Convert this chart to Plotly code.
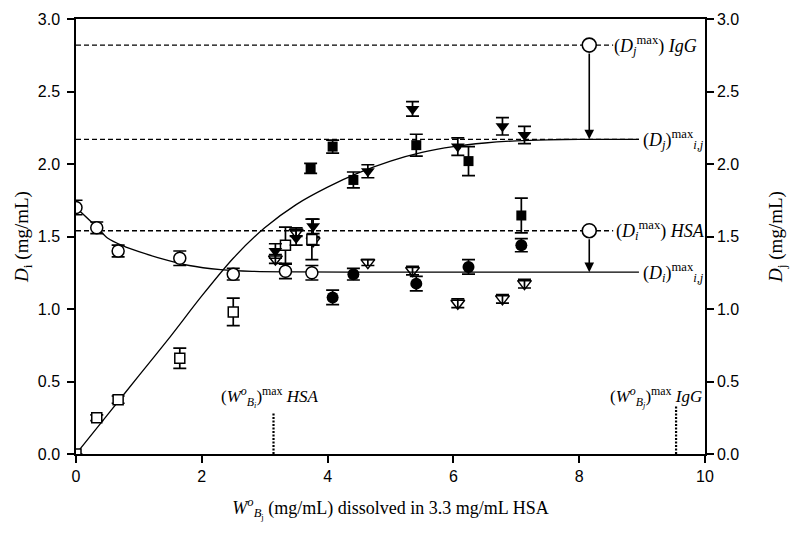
import plotly.graph_objects as go

# ---------------- data ----------------
open_circ_x = [0.0, 0.33, 0.67, 1.65, 2.50, 3.33, 3.75]
open_circ_y = [1.70, 1.56, 1.40, 1.35, 1.24, 1.26, 1.25]
open_circ_err = [0.05, 0.04, 0.04, 0.05, 0.04, 0.05, 0.05]

open_sq_x = [0.0, 0.33, 0.67, 1.65, 2.50, 3.33, 3.75]
open_sq_y = [0.0, 0.25, 0.375, 0.66, 0.98, 1.44, 1.48]
open_sq_err = [0.0, 0.02, 0.025, 0.07, 0.095, 0.125, 0.14]

black_sq_x = [3.73, 4.08, 4.41, 5.41, 6.24, 7.08]
black_sq_y = [1.97, 2.12, 1.89, 2.13, 2.02, 1.645]
black_sq_err = [0.035, 0.045, 0.055, 0.075, 0.10, 0.12]

black_tri_x = [3.17, 3.50, 3.77, 4.64, 5.35, 6.07, 6.78, 7.13]
black_tri_y = [1.40, 1.49, 1.57, 1.95, 2.38, 2.12, 2.26, 2.20]
black_tri_err = [0.05, 0.05, 0.05, 0.045, 0.05, 0.06, 0.06, 0.06]

black_circ_x = [4.08, 4.41, 5.41, 6.24, 7.08]
black_circ_y = [1.08, 1.24, 1.175, 1.29, 1.44]
black_circ_err = [0.05, 0.04, 0.05, 0.05, 0.045]

open_tri_x = [3.17, 3.50, 3.77, 4.64, 5.35, 6.07, 6.78, 7.13]
open_tri_y = [1.345, 1.53, 1.47, 1.32, 1.265, 1.04, 1.07, 1.175]
open_tri_err = [0.03, 0.03, 0.03, 0.02, 0.03, 0.03, 0.03, 0.03]

# fitted curves
dj_curve_x = [0.0, 0.5, 1.0, 1.5, 2.0, 2.5, 3.0, 3.5, 4.0, 4.5, 5.0, 5.5, 6.0, 6.5, 7.0, 7.5, 8.0, 8.5, 8.95]
dj_curve_y = [0.0, 0.27, 0.54, 0.81, 1.09, 1.35, 1.56, 1.72, 1.84, 1.94, 2.02, 2.08, 2.12, 2.145, 2.16, 2.167, 2.17, 2.17, 2.17]

di_curve_x = [0.0, 0.33, 0.5, 0.75, 1.0, 1.3, 1.8, 2.3, 2.8, 3.5, 5.0, 7.0, 8.95]
di_curve_y = [1.70, 1.565, 1.49, 1.435, 1.395, 1.355, 1.30, 1.272, 1.26, 1.256, 1.254, 1.254, 1.254]

# reference levels
igg_max = 2.82
dj_max = 2.17
hsa_max = 1.54
di_max = 1.254
max_marker_x = 8.16
level_end_x = 8.54
w_hsa = 3.14
w_igg = 9.54
w_line_top = [0.29, 0.33]

x_ticks = [0, 2, 4, 6, 8, 10]
y_ticks = [0.0, 0.5, 1.0, 1.5, 2.0, 2.5, 3.0]
y_ticklabels = ["0.0", "0.5", "1.0", "1.5", "2.0", "2.5", "3.0"]

# ---------------- figure ----------------
fig = go.Figure()
BLK = "black"

def eb(err):
    return dict(type="data", array=err, visible=True, color=BLK, thickness=1.7, width=6.5)

# dashed reference lines
for yv, xe in [(igg_max, level_end_x), (dj_max, 8.95), (hsa_max, level_end_x)]:
    fig.add_trace(go.Scatter(x=[0, xe], y=[yv, yv], mode="lines",
                             line=dict(color=BLK, width=1.4, dash="5px,3px"),
                             showlegend=False, hoverinfo="skip"))

# dotted verticals
fig.add_trace(go.Scatter(x=[w_hsa, w_hsa], y=[0, w_line_top[0]], mode="lines",
                         line=dict(color=BLK, width=2.2, dash="2px,1.5px"), showlegend=False))
fig.add_trace(go.Scatter(x=[w_igg, w_igg], y=[0, w_line_top[1]], mode="lines",
                         line=dict(color=BLK, width=2.2, dash="2px,1.5px"), showlegend=False))

# curves
fig.add_trace(go.Scatter(x=dj_curve_x, y=dj_curve_y, mode="lines",
                         line=dict(color=BLK, width=1.3, shape="spline", smoothing=0.8),
                         showlegend=False))
fig.add_trace(go.Scatter(x=di_curve_x, y=di_curve_y, mode="lines",
                         line=dict(color=BLK, width=1.3, shape="spline", smoothing=0.8),
                         showlegend=False))

# data series
fig.add_trace(go.Scatter(x=open_tri_x, y=open_tri_y, mode="markers", error_y=eb(open_tri_err),
                         marker=dict(symbol="triangle-down-open", size=12, color=BLK, line=dict(width=1.5)),
                         showlegend=False))
fig.add_trace(go.Scatter(x=open_circ_x, y=open_circ_y, mode="markers", error_y=eb(open_circ_err),
                         marker=dict(symbol="circle", size=12, color="white", line=dict(width=1.5, color=BLK)),
                         showlegend=False))
fig.add_trace(go.Scatter(x=open_sq_x, y=open_sq_y, mode="markers", error_y=eb(open_sq_err),
                         marker=dict(symbol="square", size=10, color="white", line=dict(width=1.5, color=BLK)),
                         showlegend=False))
fig.add_trace(go.Scatter(x=black_circ_x, y=black_circ_y, mode="markers", error_y=eb(black_circ_err),
                         marker=dict(symbol="circle", size=12, color=BLK), showlegend=False))
fig.add_trace(go.Scatter(x=black_sq_x, y=black_sq_y, mode="markers", error_y=eb(black_sq_err),
                         marker=dict(symbol="square", size=10, color=BLK), showlegend=False))
fig.add_trace(go.Scatter(x=black_tri_x, y=black_tri_y, mode="markers", error_y=eb(black_tri_err),
                         marker=dict(symbol="triangle-down", size=12, color=BLK), showlegend=False))

# big open circles on max levels
fig.add_trace(go.Scatter(x=[max_marker_x, max_marker_x], y=[igg_max, hsa_max], mode="markers",
                         marker=dict(symbol="circle", size=14, color="white", line=dict(width=1.6, color=BLK)),
                         showlegend=False))

# invisible trace on y2 so right axis is drawn
fig.add_trace(go.Scatter(x=[0], y=[0], yaxis="y2", mode="markers",
                         marker=dict(opacity=0), showlegend=False, hoverinfo="skip"))

# arrows
for y0, y1 in [(igg_max, dj_max), (hsa_max, di_max)]:
    fig.add_annotation(x=max_marker_x, y=y1, ax=max_marker_x, ay=y0, axref="x", ayref="y",
                       xref="x", yref="y", text="", showarrow=True, arrowhead=2,
                       arrowsize=1.2, arrowwidth=1.6, arrowcolor=BLK, startstandoff=7)

SERIF = "Liberation Serif, Times New Roman, serif"

def label(x, y, text, xanchor="left", size=18):
    fig.add_annotation(x=x, y=y, xref="x", yref="y", text=text, showarrow=False,
                       xanchor=xanchor, yanchor="middle", font=dict(family=SERIF, size=size, color=BLK))

label(8.52, igg_max, "(<i>D</i><sub><i>j</i></sub><sup>max</sup>) <i>IgG</i>")
label(8.98, dj_max, "(<i>D</i><sub><i>j</i></sub>)<sup>max</sup><sub><i>i,j</i></sub>")
label(8.56, hsa_max, "(<i>D</i><sub><i>i</i></sub><sup>max</sup>) <i>HSA</i>")
label(8.98, di_max, "(<i>D</i><sub><i>i</i></sub>)<sup>max</sup><sub><i>i,j</i></sub>")
label(2.28, 0.39, "(<i>W</i><sup><i>o</i></sup><sub><i>B<sub>i</sub></i></sub>)<sup>max</sup> <i>HSA</i>", size=17)
label(8.45, 0.39, "(<i>W</i><sup><i>o</i></sup><sub><i>B<sub>j</sub></i></sub>)<sup>max</sup> <i>IgG</i>", size=17)

TICKF = dict(family="Liberation Sans, Arial, sans-serif", size=16, color=BLK)

# page body adds an 8px offset, so margins are reduced by 8px on left/top
fig.update_layout(
    width=800, height=534,
    margin=dict(l=68, r=103, t=11, b=88),
    plot_bgcolor="white", paper_bgcolor="white",
    showlegend=False,
    xaxis=dict(range=[0, 10], tickvals=x_ticks, ticktext=[str(v) for v in x_ticks],
               showline=True, linecolor=BLK, linewidth=1.5, mirror=True,
               ticks="outside", ticklen=7, tickwidth=1.5, tickcolor=BLK,
               showgrid=False, zeroline=False, tickfont=TICKF, automargin=False,
               ticklabeloverflow="allow",
               title=dict(text="<i>W</i><sup><i>o</i></sup><sub><i>B</i><sub>j</sub></sub> (mg/mL) dissolved in 3.3 mg/mL HSA",
                          font=dict(family=SERIF, size=18, color=BLK), standoff=17)),
    yaxis=dict(range=[0, 3], tickvals=y_ticks, ticktext=y_ticklabels,
               showline=True, linecolor=BLK, linewidth=1.5,
               ticks="outside", ticklen=7, tickwidth=1.5, tickcolor=BLK, ticklabelstandoff=4,
               showgrid=False, zeroline=False, tickfont=TICKF, automargin=False,
               ticklabeloverflow="allow",
               title=dict(text="<i>D</i><sub>i</sub> (mg/mL)",
                          font=dict(family=SERIF, size=19, color=BLK), standoff=4)),
    yaxis2=dict(range=[0, 3], tickvals=y_ticks, ticktext=y_ticklabels, overlaying="y", side="right",
                showline=True, linecolor=BLK, linewidth=1.5,
                ticks="outside", ticklen=7, tickwidth=1.5, tickcolor=BLK,
                showgrid=False, zeroline=False, tickfont=TICKF, automargin=False,
                ticklabeloverflow="allow",
                title=dict(text="<i>D</i><sub>j</sub> (mg/mL)",
                           font=dict(family=SERIF, size=19, color=BLK), standoff=30)),
)

fig.write_html("out.html")
